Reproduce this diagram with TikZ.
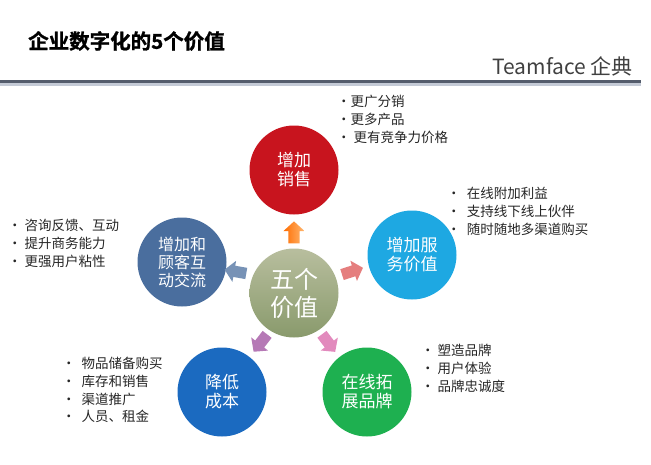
\documentclass[tikz,border=0pt]{standalone}
\usepackage{fontspec}
\setmainfont{Noto Sans CJK SC}
\newfontfamily\cjkbold[FakeBold=1.2]{Noto Sans CJK SC Bold}
\usetikzlibrary{shapes.arrows}
\definecolor{cred}{HTML}{C8141E}
\definecolor{ccyan}{HTML}{1EA8E2}
\definecolor{csteel}{HTML}{4A6E9E}
\definecolor{cblue}{HTML}{1B6AC0}
\definecolor{cgreen}{HTML}{1EB050}
\definecolor{cctop}{HTML}{B8BE9E}
\definecolor{ccbot}{HTML}{899A6C}
\definecolor{cline}{HTML}{545C6C}
\definecolor{cshadow}{HTML}{C4CAD6}
\tikzset{
  bubble/.style={circle,minimum size=89pt,inner sep=0pt,text=white,font=\fontsize{17}{19}\selectfont,align=center},
  blk/.style={single arrow,minimum height=22pt,inner xsep=0pt,inner ysep=5.5pt,single arrow head extend=5pt,single arrow tip angle=95,draw=none},
  lst/.style={anchor=north west,align=left,font=\fontsize{13.5}{17.8}\selectfont,inner sep=0pt,text=black!85}
}
\begin{document}
\begin{tikzpicture}[x=1pt,y=-1pt]
\useasboundingbox (0,0) rectangle (651,464);
% header
\node[anchor=west,inner sep=0pt,font=\cjkbold\fontsize{20.5}{24}\selectfont] (title) at (28,41) {企业数字化的5个价值};
\node[anchor=east,inner sep=0pt,text=black!75,font=\fontsize{21}{23}\selectfont] (brand) at (633,66) {Teamface 企典};
\coordinate (l1) at (0,81);
\coordinate (l2) at (641,81);
\fill[cshadow] (0,82.5) rectangle (641,86);
\draw[line width=3pt,color=cline] (l1) -- (l2);
% bubbles
\node[bubble,fill=cred] (sales) at (294,170) {增加\\销售};
\node[bubble,top color=cctop,bottom color=ccbot,font=\fontsize{24}{28}\selectfont] (core) at (294,293) {五个\\价值};
\node[bubble,fill=ccyan] (service) at (412,255) {增加服\\务价值};
\node[bubble,fill=csteel,font=\fontsize{16}{18}\selectfont] (interact) at (182,262) {增加和\\顾客互\\动交流};
\node[bubble,fill=cblue] (cost) at (222,392) {降低\\成本};
\node[bubble,fill=cgreen] (brandb) at (367,392) {在线拓\\展品牌};
% arrows
\node[blk,rotate=90,left color=orange!85!red,right color=orange!55] (a1) at (294,235) {};
\node[blk,rotate=18,fill=red!45!white!90!black] (a2) at (350,272) {};
\node[blk,rotate=170,fill=csteel!75] (a3) at (238,272) {};
\node[blk,rotate=-128,fill=violet!50!white!95!black] (a4) at (262,341) {};
\node[blk,rotate=-53,fill=magenta!45!white!90!black] (a5) at (327,341) {};
% lists
\node[lst] (t1) at (337,95) {•更广分销\\•更多产品\\• 更有竞争力价格};
\node[lst] (t2) at (447,187) {•\ \ 在线附加利益\\•\ \ 支持线下线上伙伴\\•\ \ 随时随地多渠道购买};
\node[lst] (t3) at (8,219) {• 咨询反馈、互动\\• 提升商务能力\\• 更强用户粘性};
\node[lst] (t4) at (62,357) {•\ \ 物品储备购买\\•\ \ 库存和销售\\•\ \ 渠道推广\\•\ \ 人员、租金};
\node[lst] (t5) at (421,344) {• 塑造品牌\\• 用户体验\\• 品牌忠诚度};
\end{tikzpicture}
\end{document}
